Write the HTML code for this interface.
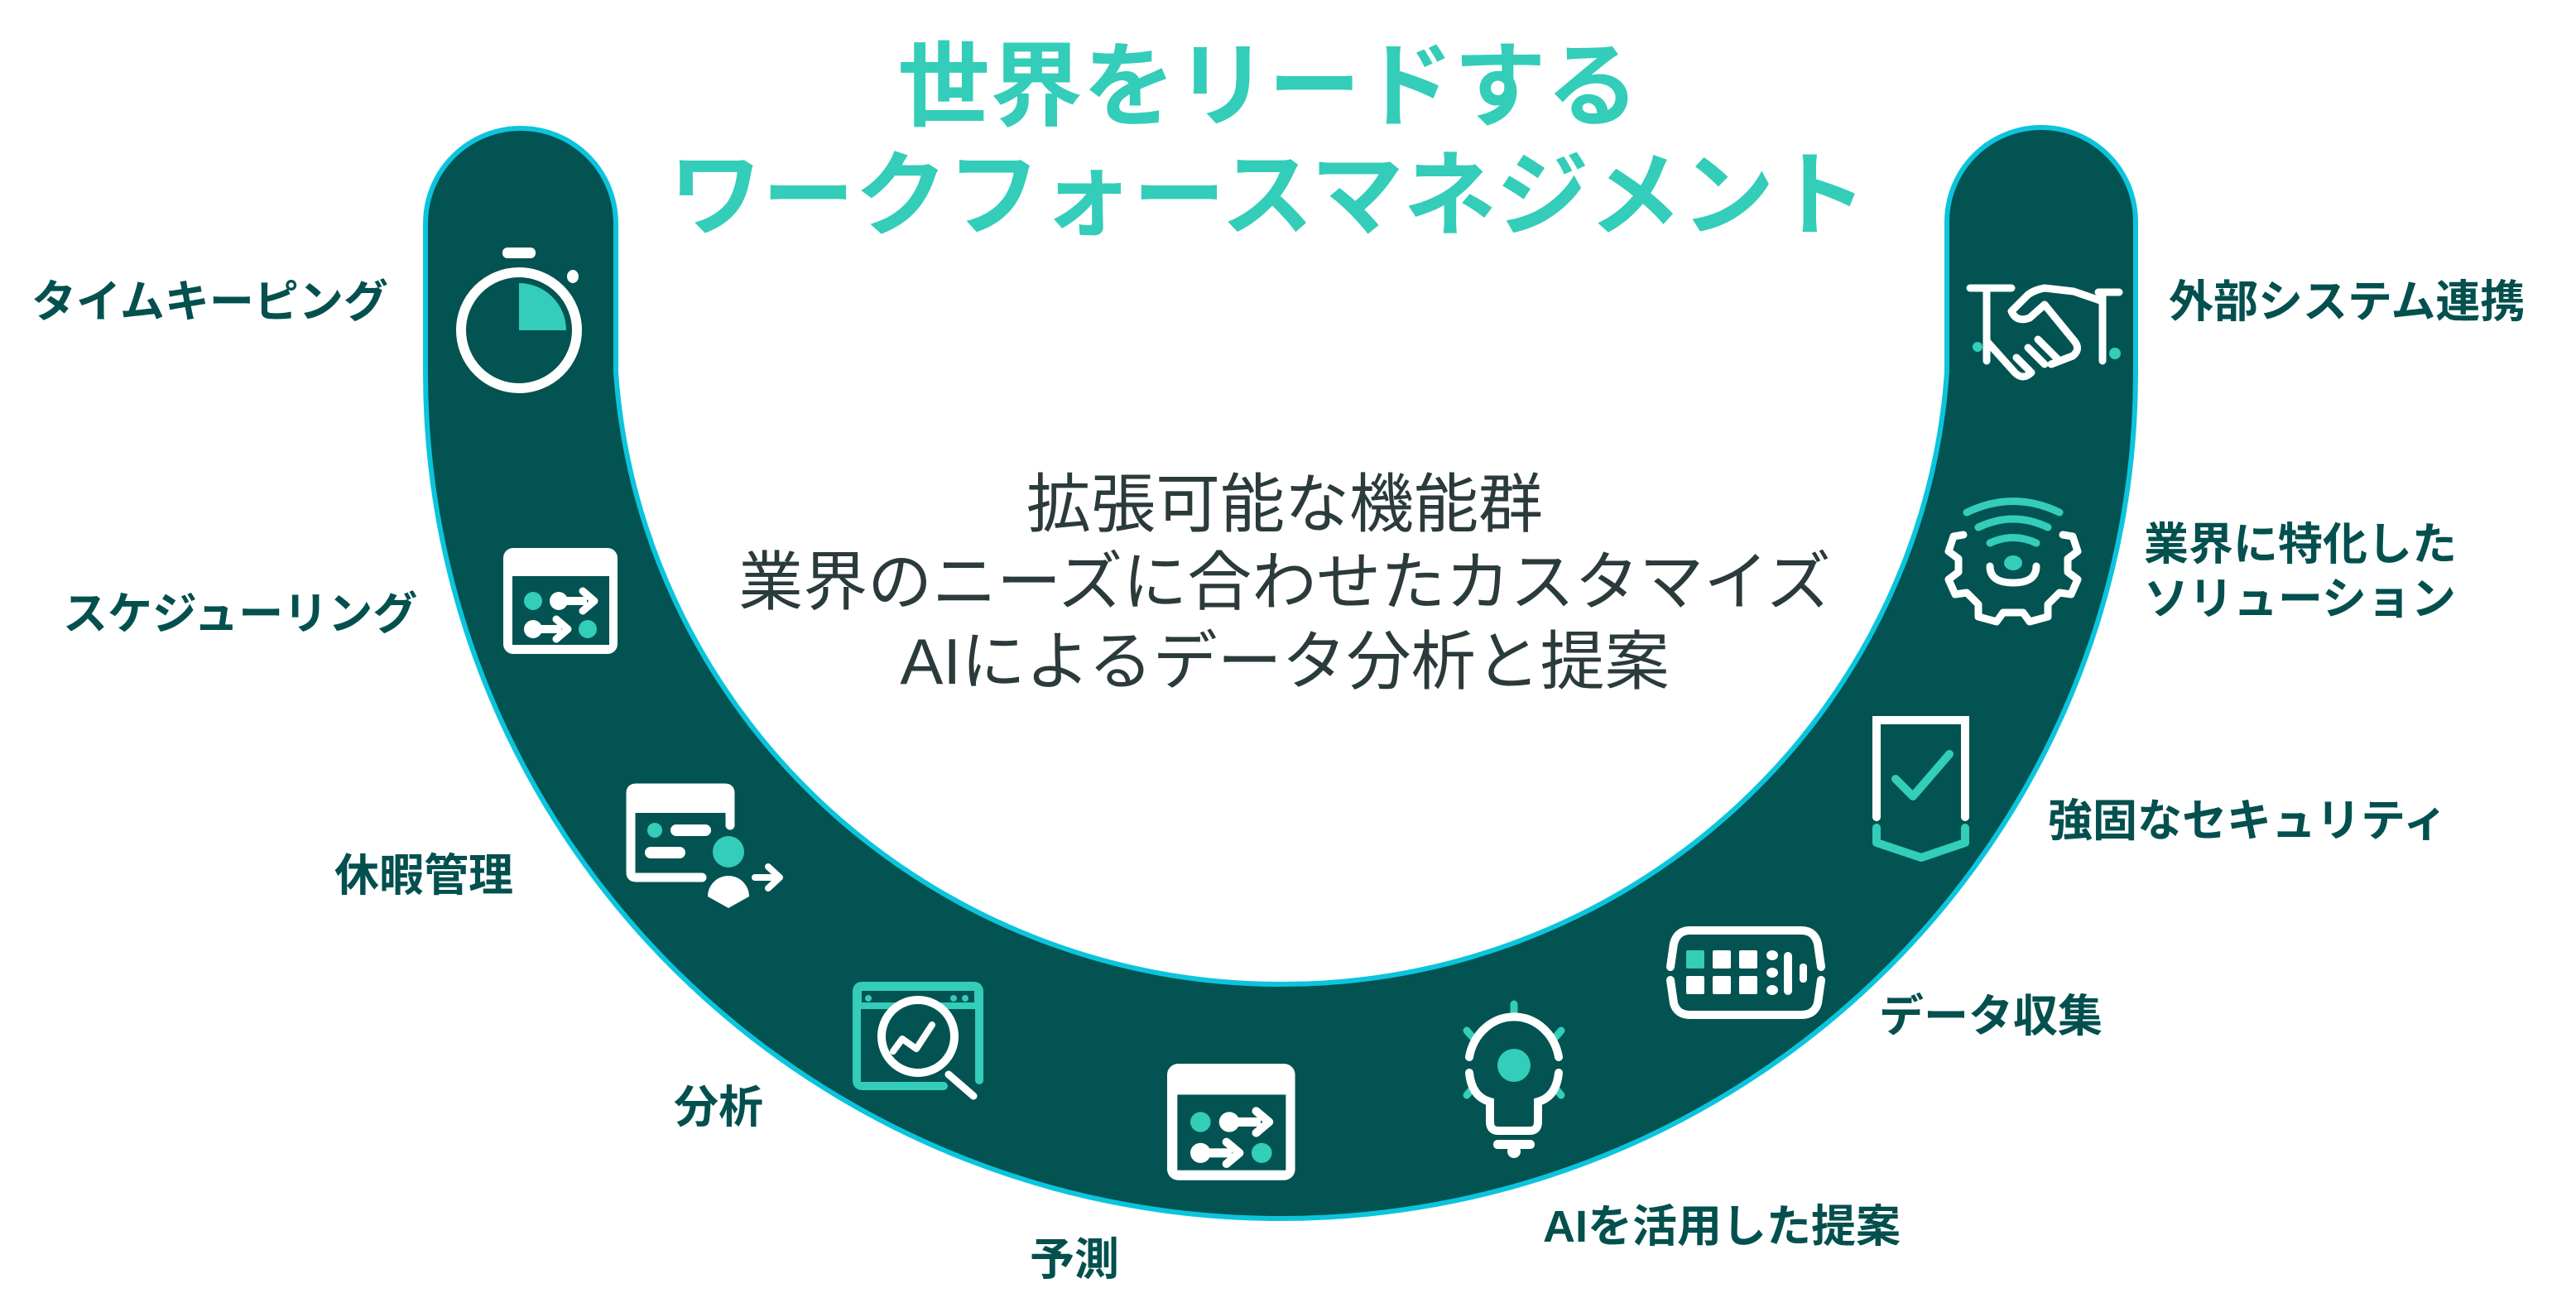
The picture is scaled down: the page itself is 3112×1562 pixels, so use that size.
<!DOCTYPE html>
<html><head><meta charset="utf-8"><style>
html,body{margin:0;padding:0;background:#fff;}
svg{display:block;}
text{font-family:"Liberation Sans","Noto Sans CJK JP",sans-serif;}
</style></head><body>
<svg width="3112" height="1562" viewBox="0 0 3112 1562" xmlns="http://www.w3.org/2000/svg">
<!-- U band -->
<path d="M514 270 A115 115 0 0 1 744 270 L744 450 A806 795 0 0 0 2352 450 L2352 268 A114 114 0 0 1 2580 268 L2580 450 A1033 1022 0 0 1 514 450 Z" fill="#025351" stroke="#0cc4dc" stroke-width="6"/>

<!-- Title -->
<text x="1532" y="143" text-anchor="middle" font-size="112" font-weight="bold" fill="#33cdb9">世界をリードする</text>
<text x="1532" y="275" text-anchor="middle" font-size="112" font-weight="bold" fill="#33cdb9">ワークフォースマネジメント</text>

<!-- center text -->
<g font-size="78" fill="#2b3a3a" text-anchor="middle">
<text x="1552" y="636">拡張可能な機能群</text>
<text x="1552" y="730">業界のニーズに合わせたカスタマイズ</text>
<text x="1552" y="826">AIによるデータ分析と提案</text>
</g>

<!-- labels -->
<g font-size="54" font-weight="bold" fill="#03504e">
<text x="38" y="383">タイムキーピング</text>
<text x="76" y="760">スケジューリング</text>
<text x="404" y="1076">休暇管理</text>
<text x="814" y="1356">分析</text>
<text x="1244" y="1540">予測</text>
<text x="1864" y="1500">AIを活用した提案</text>
<text x="2270" y="1246">データ収集</text>
<text x="2474" y="1010">強固なセキュリティ</text>
<text x="2590" y="676">業界に特化した</text>
<text x="2590" y="742">ソリューション</text>
<text x="2620" y="383">外部システム連携</text>
</g>

<!-- Stopwatch -->
<g>
<rect x="607" y="299" width="40" height="13" rx="6" fill="#fff"/>
<ellipse cx="692" cy="334" rx="7" ry="8" fill="#fff"/>
<circle cx="627" cy="399" r="70" fill="none" stroke="#fff" stroke-width="12"/>
<path d="M627 342 A57 57 0 0 1 684 399 L627 399 Z" fill="#33cdb9"/>
</g>

<!-- schedule icon -->
<g transform="translate(608,662)">
<rect x="0" y="0" width="138" height="128" rx="12" fill="#fff"/>
<rect x="11" y="34" width="117" height="83" fill="#025351"/>
<circle cx="36" cy="64" r="11" fill="#33cdb9"/>
<circle cx="67" cy="64" r="11" fill="#fff"/>
<rect x="67" y="59" width="34" height="10" fill="#fff"/>
<path d="M96 52 L110 64 L96 76" fill="none" stroke="#fff" stroke-width="9" stroke-linecap="round" stroke-linejoin="round"/>
<circle cx="36" cy="98" r="11" fill="#fff"/>
<rect x="36" y="93" width="34" height="10" fill="#fff"/>
<path d="M64 86 L78 98 L64 110" fill="none" stroke="#fff" stroke-width="9" stroke-linecap="round" stroke-linejoin="round"/>
<circle cx="102" cy="98" r="11" fill="#33cdb9"/>
</g>
<g transform="translate(1410,1285) scale(1.12,1.1)">
<rect x="0" y="0" width="138" height="128" rx="12" fill="#fff"/>
<rect x="11" y="34" width="117" height="83" fill="#025351"/>
<circle cx="36" cy="64" r="11" fill="#33cdb9"/>
<circle cx="67" cy="64" r="11" fill="#fff"/>
<rect x="67" y="59" width="34" height="10" fill="#fff"/>
<path d="M96 52 L110 64 L96 76" fill="none" stroke="#fff" stroke-width="9" stroke-linecap="round" stroke-linejoin="round"/>
<circle cx="36" cy="98" r="11" fill="#fff"/>
<rect x="36" y="93" width="34" height="10" fill="#fff"/>
<path d="M64 86 L78 98 L64 110" fill="none" stroke="#fff" stroke-width="9" stroke-linecap="round" stroke-linejoin="round"/>
<circle cx="102" cy="98" r="11" fill="#33cdb9"/>
</g>

<!-- vacation icon -->
<g>
<path d="M882 997 L882 958 Q882 952 876 952 L768 952 Q762 952 762 958 L762 1054 Q762 1060 768 1060 L848 1060" fill="none" stroke="#fff" stroke-width="11" stroke-linecap="round"/>
<rect x="762" y="952" width="120" height="30" fill="#fff"/>
<circle cx="791" cy="1003" r="9" fill="#33cdb9"/>
<path d="M817 1003 L852 1003" stroke="#fff" stroke-width="14" stroke-linecap="round"/>
<path d="M786 1030 L821 1030" stroke="#fff" stroke-width="14" stroke-linecap="round"/>
<circle cx="880" cy="1029" r="19" fill="#33cdb9"/>
<path d="M855 1083 A25 25 0 0 1 905 1083 L880 1097 Z" fill="#fff"/>
<path d="M912 1060 L942 1060 M928 1047 L942 1060 L928 1073" fill="none" stroke="#fff" stroke-width="8" stroke-linecap="round" stroke-linejoin="round"/>
</g>

<!-- analysis icon -->
<g>
<path d="M1140 1312 L1042 1312 Q1035 1312 1035 1305 L1035 1198 Q1035 1191 1042 1191 L1176 1191 Q1183 1191 1183 1198 L1183 1305" fill="none" stroke="#33cdb9" stroke-width="10" stroke-linecap="round"/>
<rect x="1035" y="1191" width="148" height="28" fill="#33cdb9"/>
<rect x="1041" y="1197" width="136" height="14" fill="#025351"/>
<circle cx="1049" cy="1206" r="4" fill="#33cdb9"/><circle cx="1152" cy="1206" r="4" fill="#33cdb9"/><circle cx="1166" cy="1206" r="4" fill="#33cdb9"/>
<circle cx="1109" cy="1252" r="44" fill="#025351" stroke="#fff" stroke-width="10"/>
<path d="M1079 1270 L1090 1255 L1107 1267 L1126 1238" fill="none" stroke="#fff" stroke-width="8" stroke-linecap="round" stroke-linejoin="round"/>
<path d="M1146 1298 L1176 1324" stroke="#fff" stroke-width="9" stroke-linecap="round"/>
</g>

<!-- bulb -->
<g>
<path d="M1829 1213 L1829 1225 M1772 1245 L1778 1252 M1886 1245 L1880 1252 M1772 1323 L1778 1316 M1886 1323 L1880 1316" stroke="#33cdb9" stroke-width="9" stroke-linecap="round"/>
<path d="M1775 1277 A55 60 0 0 1 1883 1277" fill="none" stroke="#fff" stroke-width="10" stroke-linecap="round"/>
<path d="M1775 1296 Q1778 1325 1800 1331 L1800 1355 Q1800 1366 1810 1366 L1848 1366 Q1858 1366 1858 1355 L1858 1331 Q1880 1325 1883 1296" fill="none" stroke="#fff" stroke-width="10" stroke-linecap="round"/>
<ellipse cx="1829" cy="1287" rx="20" ry="20" fill="#33cdb9"/>
<rect x="1804" y="1377" width="50" height="11" rx="5" fill="#fff"/>
<circle cx="1829" cy="1391" r="8" fill="#fff"/>
</g>

<!-- data collection -->
<g>
<path d="M2018 1168 L2022 1140 Q2026 1124 2042 1124 L2176 1124 Q2192 1124 2196 1140 L2200 1168" fill="none" stroke="#fff" stroke-width="10" stroke-linecap="round"/>
<path d="M2018 1184 L2022 1212 Q2026 1226 2042 1226 L2176 1226 Q2192 1226 2196 1212 L2200 1184" fill="none" stroke="#fff" stroke-width="10" stroke-linecap="round"/>
<rect x="2037" y="1148" width="22" height="22" rx="2" fill="#33cdb9"/>
<rect x="2069" y="1148" width="22" height="22" rx="2" fill="#fff"/>
<rect x="2101" y="1148" width="22" height="22" rx="2" fill="#fff"/>
<rect x="2037" y="1179" width="22" height="22" rx="2" fill="#fff"/>
<rect x="2069" y="1179" width="22" height="22" rx="2" fill="#fff"/>
<rect x="2101" y="1179" width="22" height="22" rx="2" fill="#fff"/>
<ellipse cx="2141" cy="1154" rx="7" ry="6" fill="#fff"/><ellipse cx="2141" cy="1175" rx="7" ry="6" fill="#fff"/><ellipse cx="2141" cy="1196" rx="7" ry="6" fill="#fff"/>
<rect x="2155" y="1150" width="10" height="52" rx="5" fill="#fff"/>
<rect x="2174" y="1164" width="9" height="23" rx="4" fill="#fff"/>
</g>

<!-- shield -->
<g>
<path d="M2267 987 L2267 870 L2374 870 L2374 987" fill="none" stroke="#fff" stroke-width="10" stroke-linecap="round"/>
<path d="M2267 1000 L2267 1018 L2321 1036 L2374 1018 L2374 1000" fill="none" stroke="#33cdb9" stroke-width="10" stroke-linecap="round" stroke-linejoin="round"/>
<path d="M2290 941 L2311 962 L2355 911" fill="none" stroke="#33cdb9" stroke-width="10" stroke-linecap="round" stroke-linejoin="round"/>
</g>

<!-- gear -->
<g>
<path d="M2376 619 Q2432 592 2488 619" fill="none" stroke="#33cdb9" stroke-width="9" stroke-linecap="round"/>
<path d="M2390 637 Q2432 617 2474 637" fill="none" stroke="#33cdb9" stroke-width="9" stroke-linecap="round"/>
<path d="M2404 656 Q2432 643 2460 656" fill="none" stroke="#33cdb9" stroke-width="9" stroke-linecap="round"/>
<ellipse cx="2432" cy="680" rx="11" ry="9" fill="#33cdb9"/>
<path d="M2404 684 Q2404 704 2432 704 Q2460 704 2460 684" fill="none" stroke="#fff" stroke-width="9" stroke-linecap="round"/>
<path d="M2372 646 L2360 648 L2354 666 L2366 675 L2366 691 L2354 700 L2362 718 L2376 716 L2390 730 L2390 745 L2412 751 L2420 740 L2444 740 L2452 751 L2474 745 L2474 730 L2488 716 L2502 718 L2510 700 L2498 691 L2498 675 L2510 666 L2504 648 L2492 646" fill="none" stroke="#fff" stroke-width="9" stroke-linejoin="round" stroke-linecap="round"/>
</g>

<!-- handshake -->
<g fill="none" stroke="#fff" stroke-width="9" stroke-linecap="round" stroke-linejoin="round">
<path d="M2380 348 L2405 348 M2400 348 L2400 436"/>
<path d="M2560 353 L2535 353 M2540 353 L2540 436"/>
<path d="M2405 348 L2430 348 M2400 412 L2434 450 Q2444 460 2454 450"/>
<path d="M2540 364 L2505 352 L2470 348 Q2458 350 2450 356 L2430 376 Q2436 390 2452 384 L2470 368 L2506 412 Q2514 422 2504 430 L2478 440"/>
<path d="M2450 420 L2470 440 M2462 410 L2486 434 M2436 432 L2452 448"/>
</g>
<circle cx="2389" cy="419" r="6" fill="#33cdb9"/>
<circle cx="2555" cy="427" r="7" fill="#33cdb9"/>
</svg>
</body></html>
